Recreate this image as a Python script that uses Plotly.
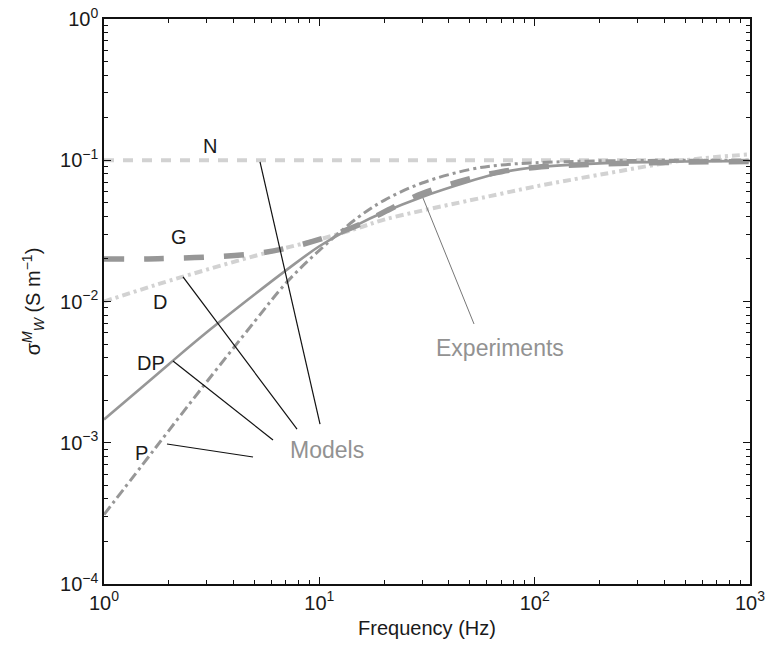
import plotly.graph_objects as go

# ---- data ----
freq = [1, 1.5, 2, 3, 5, 7, 10, 15, 20, 30, 50, 70, 100, 200, 500, 1000]

sigma_N = [0.1] * len(freq)
sigma_G = [0.020, 0.020, 0.0202, 0.0206, 0.0218, 0.0238, 0.0275, 0.0345, 0.043, 0.058,
           0.074, 0.083, 0.089, 0.094, 0.097, 0.098]
sigma_D = [0.010, 0.0122, 0.014, 0.0168, 0.021, 0.024, 0.0275, 0.033, 0.038, 0.044,
           0.052, 0.058, 0.065, 0.079, 0.100, 0.110]
sigma_DP = [0.00146, 0.00247, 0.0036, 0.00605, 0.0112, 0.0166, 0.0246, 0.0349, 0.043, 0.055,
            0.071, 0.082, 0.089, 0.095, 0.098, 0.099]
sigma_P = [0.00031, 0.00069, 0.00122, 0.0027, 0.0072, 0.0135, 0.023, 0.039, 0.052, 0.069,
           0.086, 0.0925, 0.096, 0.099, 0.100, 0.100]

x_ticks = [1, 10, 100, 1000]
x_ticktext = ["10<sup>0</sup>", "10<sup>1</sup>", "10<sup>2</sup>", "10<sup>3</sup>"]
y_ticks = [1e-4, 1e-3, 1e-2, 1e-1, 1]
y_ticktext = ["10<sup>\u22124</sup>", "10<sup>\u22123</sup>", "10<sup>\u22122</sup>",
              "10<sup>\u22121</sup>", "10<sup>0</sup>"]

x_minor = [m * 10 ** d for d in range(0, 3) for m in range(2, 10)]
y_minor = [m * 10.0 ** d for d in range(-4, 0) for m in range(2, 10)]

LIGHT = "#d2d2d2"
DARK = "#979797"
FONT = "Liberation Sans, Arial, Helvetica, sans-serif"

fig = go.Figure()
fig.add_trace(go.Scatter(x=freq, y=sigma_N, mode="lines", name="N",
                         line=dict(color=LIGHT, width=4, dash="10px,9px")))
fig.add_trace(go.Scatter(x=freq, y=sigma_D, mode="lines", name="D",
                         line=dict(color=LIGHT, width=4, dash="8px,4px,3px,4px", shape="spline")))
fig.add_trace(go.Scatter(x=freq, y=sigma_P, mode="lines", name="P",
                         line=dict(color=DARK, width=3, dash="10px,4px,3px,4px", shape="spline")))
fig.add_trace(go.Scatter(x=freq, y=sigma_DP, mode="lines", name="DP",
                         line=dict(color=DARK, width=2.6, shape="spline")))
fig.add_trace(go.Scatter(x=freq, y=sigma_G, mode="lines", name="G",
                         line=dict(color=DARK, width=5.5, dash="20px,20px", shape="spline")))

axis_common = dict(
    type="log", showgrid=False, zeroline=False, showline=True, linecolor="#111",
    linewidth=1.5, mirror="ticks", ticks="inside", ticklen=7, tickwidth=1,
    tickcolor="#111", tickmode="array", automargin=False,
    tickfont=dict(family=FONT, size=20, color="#1a1a1a"),
)

fig.update_xaxes(**axis_common, range=[0, 3], tickvals=x_ticks, ticktext=x_ticktext,
                 minor=dict(tickmode="array", tickvals=x_minor, ticks="inside",
                            ticklen=4, tickcolor="#111", showgrid=False),
                 title=dict(text="Frequency (Hz)", font=dict(family=FONT, size=20, color="#1a1a1a"),
                            standoff=8))
fig.update_yaxes(**axis_common, range=[-4, 0], tickvals=y_ticks, ticktext=y_ticktext,
                 minor=dict(tickmode="array", tickvals=y_minor, ticks="inside",
                            ticklen=4, tickcolor="#111", showgrid=False),
                 title=dict(text="\u03c3<sup><i>M</i></sup><sub><i>W</i></sub> (S m<sup>\u22121</sup>)",
                            font=dict(family=FONT, size=20, color="#1a1a1a"), standoff=14))

# leader lines (paper coordinates)
leaders = [
    ((0.2415, 0.747), (0.3344, 0.283), "#111", 1.2),
    ((0.1223, 0.5434), (0.2988, 0.2743), "#111", 1.2),
    ((0.1068, 0.3947), (0.2616, 0.2549), "#111", 1.2),
    ((0.0975, 0.2478), (0.2307, 0.2248), "#111", 1.2),
    ((0.4938, 0.6832), (0.5728, 0.4602), "#777", 1.0),
]
for (x0, y0), (x1, y1), c, w in leaders:
    fig.add_shape(type="line", xref="paper", yref="paper", x0=x0, y0=y0, x1=x1, y1=y1,
                  line=dict(color=c, width=w))

labels = [
    ("N", 0.164, 0.775, "#1a1a1a", 20),
    ("G", 0.116, 0.614, "#1a1a1a", 20),
    ("D", 0.0867, 0.499, "#1a1a1a", 20),
    ("DP", 0.0728, 0.391, "#1a1a1a", 20),
    ("P", 0.0588, 0.232, "#1a1a1a", 20),
    ("Models", 0.345, 0.237, "#929292", 23),
    ("Experiments", 0.613, 0.418, "#929292", 23),
]
for t, x, y, c, s in labels:
    fig.add_annotation(text=t, x=x, y=y, xref="paper", yref="paper", showarrow=False,
                       font=dict(family=FONT, size=s, color=c), xanchor="center", yanchor="middle")

fig.update_layout(
    width=768, height=646, showlegend=False,
    margin=dict(l=104, r=18, t=19, b=62),
    paper_bgcolor="white", plot_bgcolor="white",
    font=dict(family=FONT),
)

fig.write_html("out.html")
